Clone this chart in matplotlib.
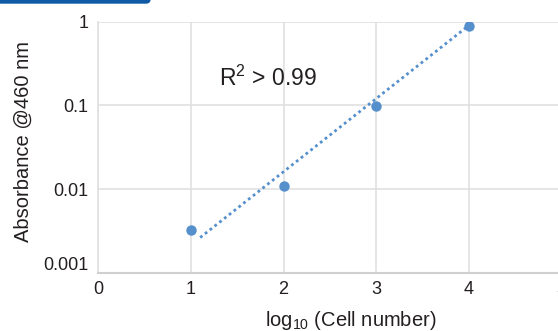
import matplotlib
matplotlib.use("Agg")
import matplotlib.pyplot as plt
from matplotlib.patches import FancyBboxPatch
from matplotlib import transforms

plt.rcParams["font.family"] = ["Liberation Sans", "DejaVu Sans"]
plt.rcParams["mathtext.fontset"] = "custom"
plt.rcParams["mathtext.rm"] = "Liberation Sans"
plt.rcParams["mathtext.it"] = "Liberation Sans"

# measured points
log_cells = [1, 2, 3, 4]
absorbance = [0.00327, 0.011, 0.098, 0.90]
# dotted fit line end points
fit_x = [1.1, 4.0]
fit_y = [0.00265, 0.90]

x_ticks = [0, 1, 2, 3, 4, 5]
y_ticks = [0.001, 0.01, 0.1, 1]
y_tick_labels = ["0.001", "0.01", "0.1", "1"]

TXT = "#231f20"
BLUE = "#5590cc"
GRID = "#e0e0e0"

fig = plt.figure(figsize=(5.58, 3.31), dpi=100)
ax = fig.add_axes([98.3 / 558, 1 - 273 / 331, (5 * 92.6) / 558, (273 - 21.7) / 331])

ax.plot(fit_x, fit_y, color=BLUE, lw=2.0, linestyle=(0, (1, 1.2)))
ax.plot(log_cells, absorbance, "o", color=BLUE, ms=7.5, mec="none", zorder=3)

ax.set_yscale("log")
ax.set_xlim(0, 5)
ax.set_ylim(0.001, 1)
ax.set_xticks(x_ticks)
ax.set_yticks(y_ticks)
ax.set_yticklabels(y_tick_labels)
ax.minorticks_off()
ax.tick_params(length=0, labelsize=13, colors=TXT)
ax.tick_params(axis="y", pad=7)
ax.tick_params(axis="x", pad=6)
ax.grid(True, color=GRID, lw=1.2)
ax.set_axisbelow(True)
for s in ("top", "right"):
    ax.spines[s].set_visible(False)
ax.spines["left"].set_color(GRID)
ax.spines["left"].set_linewidth(1.2)
ax.spines["bottom"].set_color("#d0d0d0")
ax.spines["bottom"].set_linewidth(1.5)

# lowest y label sits a bit above the axis line
lab = ax.get_yticklabels()[0]
lab.set_transform(lab.get_transform() + transforms.ScaledTranslation(0, 7 / 72, fig.dpi_scale_trans))

ax.text(1.3, 0.21, r"R$^2$ > 0.99", fontsize=16.5, color=TXT, va="center")

fig.text(351 / 558, 1 - 320 / 331, r"log$_{10}$ (Cell number)", fontsize=14.5,
         color=TXT, ha="center", va="center")
fig.text(23 / 558, 1 - 142 / 331, "Absorbance @460 nm", fontsize=14.5,
         color=TXT, ha="center", va="center", rotation=90)

# blue tab at the top edge
fig.patches.append(FancyBboxPatch((-20, 328), 170, 10, boxstyle="round,pad=0,rounding_size=4",
                                  transform=None, color="#0e5aa6", figure=fig))

fig.savefig("out.png", dpi=100)
